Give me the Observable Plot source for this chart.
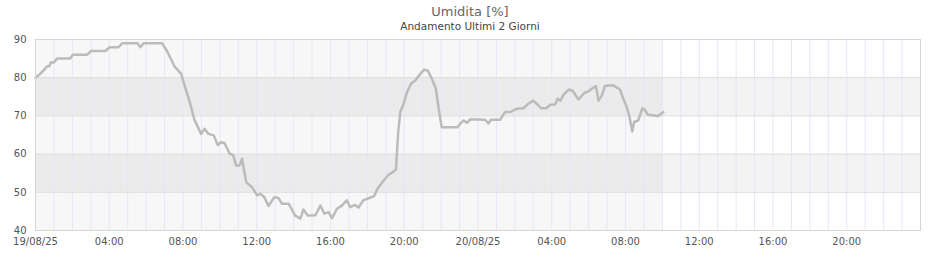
<!DOCTYPE html>
<html>
<head>
<meta charset="utf-8">
<script src="https://cdn.jsdelivr.net/npm/d3@7"></script>
<script src="https://cdn.jsdelivr.net/npm/@observablehq/plot@0.6"></script>
<style>
  html, body { margin: 0; padding: 0; background: #fff; }
  #chart { width: 940px; height: 260px; }
</style>
</head>
<body>
<div id="chart"></div>
<script>
const titleText = "Umidita [%]";
const subtitleText = "Andamento Ultimi 2 Giorni";

const times = [
  "2025-08-19T00:00","2025-08-19T00:15","2025-08-19T00:27","2025-08-19T00:38","2025-08-19T00:45",
  "2025-08-19T00:50","2025-08-19T01:00","2025-08-19T01:10","2025-08-19T01:52","2025-08-19T02:02",
  "2025-08-19T02:48","2025-08-19T03:01","2025-08-19T03:47","2025-08-19T04:02","2025-08-19T04:30",
  "2025-08-19T04:42","2025-08-19T05:32","2025-08-19T05:41","2025-08-19T05:52","2025-08-19T06:52",
  "2025-08-19T07:08","2025-08-19T07:32","2025-08-19T07:54","2025-08-19T08:05","2025-08-19T08:22",
  "2025-08-19T08:37","2025-08-19T08:59","2025-08-19T09:10","2025-08-19T09:23","2025-08-19T09:40",
  "2025-08-19T09:53","2025-08-19T10:04","2025-08-19T10:15","2025-08-19T10:32","2025-08-19T10:43",
  "2025-08-19T10:53","2025-08-19T11:04","2025-08-19T11:12","2025-08-19T11:26","2025-08-19T11:45",
  "2025-08-19T12:01","2025-08-19T12:12","2025-08-19T12:25","2025-08-19T12:38","2025-08-19T12:57",
  "2025-08-19T13:11","2025-08-19T13:22","2025-08-19T13:44","2025-08-19T14:05","2025-08-19T14:22",
  "2025-08-19T14:32","2025-08-19T14:46","2025-08-19T15:11","2025-08-19T15:27","2025-08-19T15:40",
  "2025-08-19T15:54","2025-08-19T16:05","2025-08-19T16:21","2025-08-19T16:37","2025-08-19T16:53",
  "2025-08-19T17:04","2025-08-19T17:20","2025-08-19T17:31","2025-08-19T17:47","2025-08-19T18:12",
  "2025-08-19T18:22","2025-08-19T18:33","2025-08-19T18:53","2025-08-19T19:09","2025-08-19T19:25",
  "2025-08-19T19:33","2025-08-19T19:40","2025-08-19T19:47","2025-08-19T19:58","2025-08-19T20:09",
  "2025-08-19T20:22","2025-08-19T20:36","2025-08-19T20:52","2025-08-19T21:05","2025-08-19T21:16",
  "2025-08-19T21:30","2025-08-19T21:43","2025-08-19T21:52","2025-08-19T22:02","2025-08-19T22:52",
  "2025-08-19T23:02","2025-08-19T23:13","2025-08-19T23:24","2025-08-19T23:35",
  "2025-08-20T00:23","2025-08-20T00:34","2025-08-20T00:42","2025-08-20T01:12","2025-08-20T01:28",
  "2025-08-20T01:45","2025-08-20T02:07","2025-08-20T02:28","2025-08-20T02:44","2025-08-20T02:59",
  "2025-08-20T03:11","2025-08-20T03:25","2025-08-20T03:42","2025-08-20T03:55","2025-08-20T04:11",
  "2025-08-20T04:19","2025-08-20T04:28","2025-08-20T04:38","2025-08-20T04:55","2025-08-20T05:08",
  "2025-08-20T05:27","2025-08-20T05:46","2025-08-20T05:59","2025-08-20T06:10","2025-08-20T06:24",
  "2025-08-20T06:32","2025-08-20T06:43","2025-08-20T06:53","2025-08-20T07:20","2025-08-20T07:42",
  "2025-08-20T07:53","2025-08-20T08:04","2025-08-20T08:12","2025-08-20T08:22","2025-08-20T08:28",
  "2025-08-20T08:41","2025-08-20T08:55","2025-08-20T09:02","2025-08-20T09:13","2025-08-20T09:47",
  "2025-08-20T10:03"
];
const humidity = [
  80, 81, 82, 83, 83,
  84, 84, 85, 85, 86,
  86, 87, 87, 88, 88,
  89, 89, 88, 89, 89,
  87, 83, 81, 78, 73.6,
  69, 65.3, 66.6, 65.3, 64.9,
  62.4, 63.1, 62.9, 60.1, 59.8,
  57, 57, 58.8, 52.6, 51.3,
  49.2, 49.6, 48.7, 46.4, 48.7,
  48.5, 47, 47, 43.9, 43.1,
  45.5, 43.9, 44, 46.5, 44.4,
  44.8, 43.2, 45.7, 46.5, 47.9,
  46.1, 46.7, 46, 47.9, 48.7,
  49, 50.9, 53.1, 54.6, 55.4,
  56, 65.5, 71, 73.2, 76.2,
  78.4, 79.3, 81, 82.1, 81.9,
  79.7, 77.1, 71.9, 67, 67,
  67.9, 68.8, 68.2, 69.1,
  69, 68, 69, 69, 71,
  71, 71.9, 72, 73.2, 74,
  73.2, 72, 72, 72.9, 73,
  74.5, 74, 75.5, 76.9, 76.6,
  74.3, 76, 76.4, 77.1, 77.8,
  74, 75.3, 77.8, 78, 76.9,
  74.5, 72.3, 70.1, 65.9, 68.4,
  68.8, 72, 71.7, 70.3, 70,
  71
];

const domainStart = "2025-08-19T00:00";
const domainEnd = "2025-08-21T00:00";
const xTickTimes = [
  "2025-08-19T00:00","2025-08-19T04:00","2025-08-19T08:00","2025-08-19T12:00",
  "2025-08-19T16:00","2025-08-19T20:00","2025-08-20T00:00","2025-08-20T04:00",
  "2025-08-20T08:00","2025-08-20T12:00","2025-08-20T16:00","2025-08-20T20:00"
];
const yTicks = [40, 50, 60, 70, 80, 90];
const bandLow = [40, 50, 60, 70, 80];
const bandHigh = [50, 60, 70, 80, 90];
const bandFill = ["#ffffff", "#f3f3f3", "#ffffff", "#f3f3f3", "#ffffff"];

const parse = d3.utcParse("%Y-%m-%dT%H:%M");
const data = times.map((t, i) => ({time: parse(t), value: humidity[i]}));
const x0 = parse(domainStart), x1 = parse(domainEnd);
const bands = bandLow.map((lo, i) => ({lo, hi: bandHigh[i], fill: bandFill[i]}));
const hourLines = d3.utcHours(d3.utcHour.offset(x0, 1), x1);
const xTicks = xTickTimes.map(parse);
const fmtDay = d3.utcFormat("%d/%m/%y"), fmtHour = d3.utcFormat("%H:%M");
const dataExtent = d3.extent(data, d => d.time);

const chart = Plot.plot({
  width: 940,
  height: 260,
  marginLeft: 35,
  marginRight: 20,
  marginTop: 39,
  marginBottom: 30,
  style: {fontFamily: "DejaVu Sans", fontSize: "10px", color: "#555", background: "#fff"},
  x: {type: "utc", domain: [x0, x1]},
  y: {domain: [40, 90]},
  color: {type: "identity"},
  marks: [
    Plot.rect(bands, {x1: () => x0, x2: () => x1, y1: "lo", y2: "hi", fill: "fill"}),
    Plot.rect([dataExtent], {x1: d => d[0], x2: d => d[1], y1: () => 40, y2: () => 90, fill: "#000", fillOpacity: 0.03}),
    Plot.ruleX(hourLines, {stroke: "#e6e6f7", strokeWidth: 1}),
    Plot.ruleY(yTicks.slice(1, -1), {stroke: "#dddddd", strokeWidth: 1}),
    Plot.line(data, {x: "time", y: "value", stroke: "#bbbbbb", strokeWidth: 2.5, strokeLinejoin: "round", strokeLinecap: "round"}),
    Plot.frame({stroke: "#d6d6d6"}),
    Plot.axisY({ticks: yTicks, tickSize: 0, tickPadding: 9, tickFormat: d => String(d)}),
    Plot.axisX({ticks: xTicks, tickSize: 0, tickPadding: 7,
      tickFormat: d => (d.getUTCHours() === 0 ? fmtDay(d) : fmtHour(d))})
  ]
});

const svg = d3.select(chart);
svg.append("text").attr("x", 470).attr("y", 16).attr("text-anchor", "middle")
  .attr("font-family", "DejaVu Sans").attr("font-size", 13).attr("fill", "#666").text(titleText);
svg.append("text").attr("x", 470).attr("y", 30).attr("text-anchor", "middle")
  .attr("font-family", "DejaVu Sans").attr("font-size", 10.5).attr("fill", "#444").text(subtitleText);

document.getElementById("chart").appendChild(chart);
</script>
</body>
</html>
